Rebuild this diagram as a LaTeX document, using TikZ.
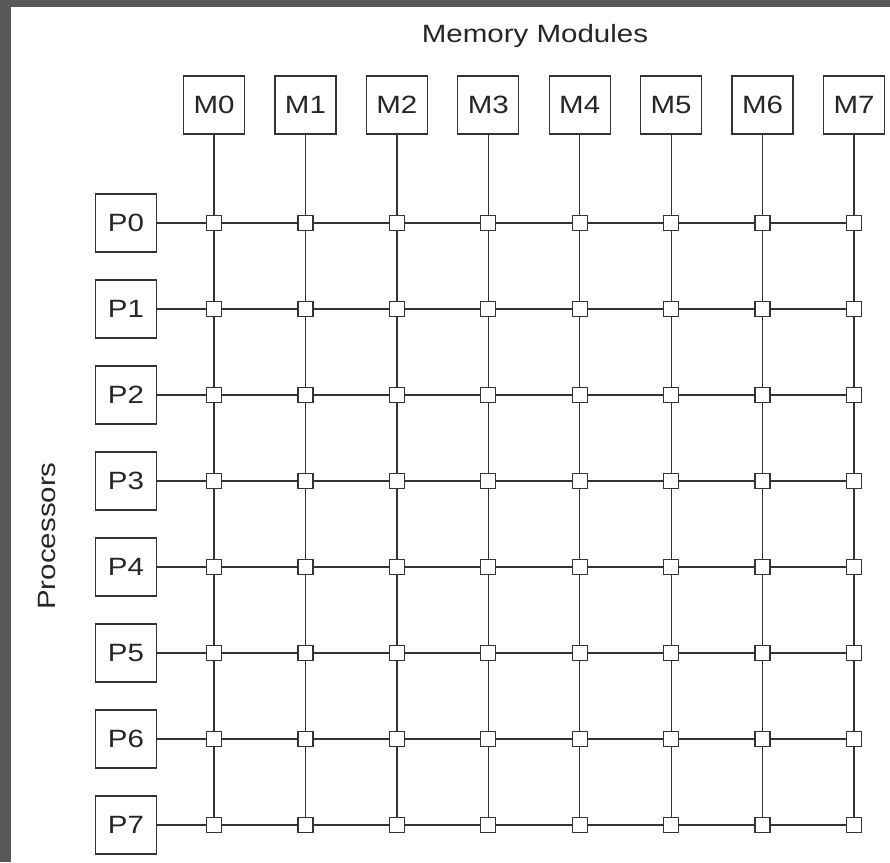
\documentclass[tikz,border=0pt]{standalone}
\usepackage{fontspec}
\setmainfont{Liberation Sans}[FakeStretch=1.18]
\usetikzlibrary{backgrounds}
\definecolor{frame}{HTML}{585858}
\definecolor{ink}{HTML}{333333}
\begin{document}
\begin{tikzpicture}[x=1pt,y=-1pt,
  unit/.style={draw=ink, line width=1.4pt, minimum width=61pt, minimum height=58pt, inner sep=0pt,
    font=\fontsize{25}{25}\selectfont, text=black!85},
  sw/.style={draw=ink, line width=1.3pt, fill=white, minimum size=15pt, inner sep=0pt},
  wire/.style={draw=ink, line width=1.3pt},
  lbl/.style={font=\fontsize{25}{25}\selectfont, text=black!85, inner sep=0pt}]
\useasboundingbox (0,0) rectangle (890,862);
\node[lbl, anchor=base] (title) at (535,42) {Memory Modules};
\node[lbl, rotate=90, anchor=base] (proc) at (55,536) {Processors};
\foreach \i in {0,...,7}{
  \node[unit] (M\i) at ({214+91.43*\i},105) {M\i};
  \node[unit] (P\i) at (126,{223+86*\i}) {P\i};
  \foreach \j in {0,...,7}{
    \node[sw] (S\i\j) at ({214+91.43*\j},{223+86*\i}) {};
  }
}
\begin{scope}[on background layer]
\fill[white] (0,0) rectangle (890,862);
\fill[frame] (0,0) rectangle (890,7);
\fill[frame] (0,0) rectangle (11,862);
\foreach \i in {0,...,7}{
  \draw[wire] (P\i.east) -- (S\i7.center);
  \draw[wire] (M\i.south) -- (S7\i.center);
}
\end{scope}
\end{tikzpicture}
\end{document}
